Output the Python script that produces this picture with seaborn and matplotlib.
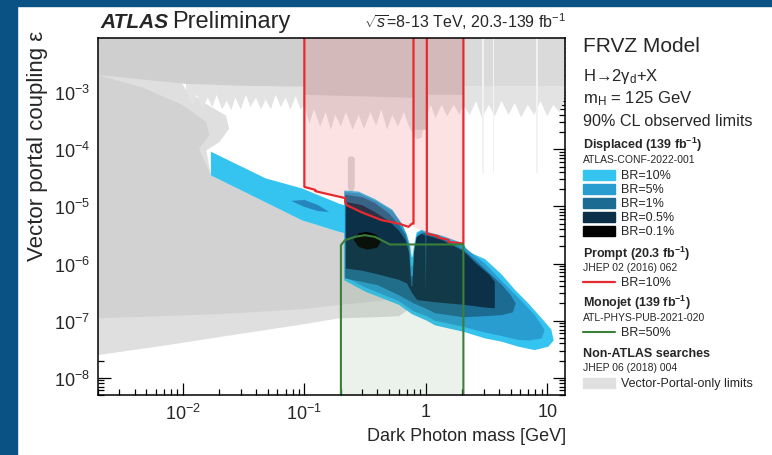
import numpy as np
import matplotlib
matplotlib.use("Agg")
import matplotlib.pyplot as plt
import seaborn as sns
import pandas as pd
from matplotlib.patches import Rectangle
from matplotlib.lines import Line2D

# ---------------- data ----------------
X_MIN, X_MAX = 0.002, 14.0
Y_MIN, Y_MAX = 5e-9, 9e-3
TOP = 1e-2

x_ticks = [0.01, 0.1, 1, 10]
x_ticklabels = [r"$10^{-2}$", r"$10^{-1}$", "1", "10"]
y_ticks = [1e-8, 1e-7, 1e-6, 1e-5, 1e-4, 1e-3]
y_ticklabels = [r"$10^{-8}$", r"$10^{-7}$", r"$10^{-6}$", r"$10^{-5}$", r"$10^{-4}$", r"$10^{-3}$"]

# Non-ATLAS (vector-portal-only) limits: beam dump outer / inner regions
bd_out_m = [0.002, 0.008, 0.0106, 0.015, 0.0226, 0.024, 0.020, 0.0156, 0.017, 0.048, 0.096, 0.193, 0.3, 0.45,
            0.6, 0.68, 0.7, 0.6, 0.4, 0.193, 0.09, 0.0256, 0.00726, 0.002]
bd_out_e = [5e-3, 3e-3, 1.1e-3, 6.5e-4, 3.9e-4, 2.3e-4, 1.34e-4, 9.6e-5, 3.5e-5, 1.18e-5, 5.7e-6, 3.6e-6, 2.5e-6,
            1.2e-6, 5e-7, 2.5e-7, 1.5e-7, 1.2e-7, 1.15e-7, 1.1e-7, 8.4e-8, 5.6e-8, 3.7e-8, 2.5e-8]
bd_in_m = [0.002, 0.0047, 0.010, 0.0156, 0.0165, 0.0136, 0.017, 0.048, 0.096, 0.193, 0.3, 0.45, 0.6, 0.65,
           0.6, 0.4, 0.2, 0.1, 0.02, 0.002]
bd_in_e = [2e-3, 1.2e-3, 5.9e-4, 3.0e-4, 1.76e-4, 1.03e-4, 3.5e-5, 1.18e-5, 5.7e-6, 3.6e-6, 2.5e-6, 1.2e-6,
           5.5e-7, 3e-7, 2.4e-7, 2.2e-7, 1.9e-7, 1.6e-7, 1.3e-7, 1.1e-7]
# collider / fixed-target band at large coupling
top_left_m = [0.002, 0.0106, 0.03, 0.1, 0.1, 0.79, 0.79, 1.02, 1.02, 2.04]
top_left_e = [2e-3, 1.4e-3, 1.3e-3, 1.25e-3, 9e-4, 8e-4, 2.2e-4, 2.2e-4, 9e-4, 9e-4]
top_right_m = [2.04, 14.0]
top_right_e = [1.3e-3, 1.3e-3]
fringe_m = [0.0106, 0.012, 0.013, 0.0145, 0.016, 0.0175, 0.019, 0.021, 0.023, 0.025, 0.027, 0.030, 0.033,
            0.036, 0.040, 0.044, 0.048, 0.053, 0.058, 0.064, 0.070, 0.077, 0.085, 0.093, 0.100,
            0.11, 0.12, 0.135, 0.15, 0.165, 0.18, 0.20, 0.22, 0.25, 0.28, 0.31, 0.35, 0.39, 0.43, 0.48,
            0.53, 0.59, 0.66, 0.72, 0.79,
            0.85, 0.92, 1.02, 1.1, 1.2, 1.35, 1.5, 1.7, 1.9, 2.04,
            2.3, 2.6, 2.9, 3.3, 3.7, 4.2, 4.8, 5.4, 6.1, 6.9, 7.8, 8.8, 10.0, 11.2, 12.6, 14.0]
fringe_e = [1.1e-3, 6e-4, 9e-4, 5e-4, 8e-4, 5.5e-4, 9e-4, 5e-4, 7e-4, 4.8e-4, 8e-4, 5e-4, 9e-4,
            5.5e-4, 8e-4, 5e-4, 7.5e-4, 5e-4, 9e-4, 5.5e-4, 8e-4, 5e-4, 8.5e-4, 5e-4, 6e-4,
            2.8e-4, 5e-4, 2.5e-4, 4.5e-4, 2.2e-4, 4e-4, 2.5e-4, 4.5e-4, 2.2e-4, 4e-4, 2.3e-4, 4.5e-4, 2.6e-4,
            5e-4, 2.2e-4, 4e-4, 2.5e-4, 4.5e-4, 2.6e-4, 1.8e-4,
            1.5e-4, 1.6e-4, 4e-4, 6e-4, 3.5e-4, 6e-4, 3.8e-4, 6e-4, 4e-4, 6e-4,
            4e-4, 7e-4, 3.5e-4, 6e-4, 3.8e-4, 7e-4, 4e-4, 6.5e-4, 3.6e-4, 6e-4, 4e-4, 7e-4, 3.8e-4, 6e-4,
            4.5e-4, 8e-4]
streak_m = [2.9, 3.0, 3.55, 3.65, 8.1, 8.4]
spike_m = [0.228, 0.235, 0.25, 0.26, 0.26, 0.25, 0.235, 0.228]
spike_e = [7e-5, 7.5e-5, 7.5e-5, 7e-5, 2.2e-5, 1.7e-5, 1.7e-5, 2.2e-5]

# Displaced search (139 fb-1), BR contours
br10_m = [0.017, 0.048, 0.096, 0.193, 0.213, 0.213, 0.28, 0.38, 0.53, 0.635, 0.70, 0.745, 0.765, 0.775, 0.80,
          0.84, 0.92, 1.02, 1.35, 2.04, 2.24, 3.07, 4.2, 5.4, 7.0, 9.0, 10.8, 11.3,
          10.2, 7.9, 5.8, 4.2, 3.07, 2.04, 1.19, 1.02, 0.77, 0.60, 0.32, 0.213, 0.213, 0.193, 0.096, 0.048, 0.017]
br10_e = [9.1e-5, 3.1e-5, 2.06e-5, 1.12e-5, 1.05e-5, 1.9e-5, 1.82e-5, 1.35e-5, 8.8e-6, 5.0e-6, 3.2e-6, 2.0e-6,
          1.3e-6, 1.3e-6, 2.0e-6, 3.5e-6, 3.9e-6, 3.6e-6, 3.1e-6, 2.25e-6, 1.6e-6, 1.2e-6, 6.5e-7, 3.5e-7,
          2.0e-7, 1.1e-7, 7e-8, 4.5e-8,
          3.5e-8, 3.06e-8, 3.5e-8, 4.3e-8, 4.9e-8, 6.4e-8, 8.3e-8, 1.0e-7, 1.3e-7, 1.9e-7, 3.2e-7, 5.1e-7,
          3.4e-6, 3.6e-6, 5.7e-6, 1.18e-5, 3.5e-5]
br5_m = [0.215, 0.28, 0.38, 0.53, 0.63, 0.69, 0.735, 0.76, 0.78, 0.81, 0.85, 0.92, 1.02, 1.35, 2.04, 3.07,
         4.2, 5.8, 7.9, 9.5, 9.0, 7.0, 5.8, 4.2, 3.07, 2.04, 1.19, 1.02, 0.80, 0.60, 0.32, 0.215]
br5_e = [1.78e-5, 1.7e-5, 1.27e-5, 8.3e-6, 5.0e-6, 3.3e-6, 2.0e-6, 9e-7, 9e-7, 2.0e-6, 3.3e-6, 3.75e-6,
         3.45e-6, 2.95e-6, 2.0e-6, 1.0e-6, 5.0e-7, 2.5e-7, 1.25e-7, 6.9e-8, 4.9e-8, 4.5e-8, 4.6e-8, 5.4e-8,
         6.2e-8, 7.8e-8, 1.0e-7, 1.2e-7, 1.45e-7, 2.2e-7, 3.8e-7, 5.8e-7]
island_m = [0.078, 0.10, 0.13, 0.16, 0.13, 0.10]
island_e = [1.25e-5, 1.3e-5, 1.05e-5, 8.0e-6, 8.3e-6, 9.8e-6]
br1_m = [0.217, 0.3, 0.38, 0.5, 0.6, 0.68, 0.73, 0.755, 0.785, 0.82, 0.87, 0.95, 1.02, 1.35, 2.04, 2.5,
         3.07, 4.2, 5.0, 5.5, 5.2, 4.2, 3.07, 2.04, 1.2, 1.02, 0.80, 0.60, 0.4, 0.217]
br1_e = [1.6e-5, 1.45e-5, 1.15e-5, 7.5e-6, 4.8e-6, 3.2e-6, 1.9e-6, 6e-7, 6e-7, 1.9e-6, 3.1e-6, 3.5e-6,
         3.3e-6, 2.8e-6, 1.75e-6, 1.2e-6, 8.0e-7, 4.3e-7, 2.8e-7, 2.0e-7, 1.4e-7, 1.25e-7, 1.2e-7, 1.15e-7,
         1.35e-7, 1.6e-7, 2.0e-7, 2.8e-7, 4.2e-7, 5.5e-7]
br05_m = [0.22, 0.3, 0.38, 0.5, 0.6, 0.68, 0.73, 0.76, 0.775, 0.80, 0.84, 0.92, 0.99, 1.0, 1.01, 1.35, 2.04,
          2.6, 3.3, 3.7, 3.7, 3.07, 2.04, 1.2, 0.85, 0.775, 0.7, 0.6, 0.4, 0.3, 0.22]
br05_e = [1.2e-5, 1.05e-5, 8e-6, 5.5e-6, 3.8e-6, 2.6e-6, 1.5e-6, 4e-7, 4e-7, 1.6e-6, 2.9e-6, 3.3e-6, 3.1e-6,
          3e-7, 3.1e-6, 2.6e-6, 1.65e-6, 1.0e-6, 6.5e-7, 4.8e-7, 1.65e-7, 1.7e-7, 1.9e-7, 2.1e-7, 2.3e-7,
          3e-7, 4.5e-7, 5.2e-7, 6.5e-7, 7.5e-7, 8.2e-7]
br01_m = [0.255, 0.28, 0.33, 0.39, 0.43, 0.40, 0.33, 0.28]
br01_e = [2.6e-6, 3.4e-6, 3.6e-6, 3.2e-6, 2.5e-6, 1.9e-6, 1.75e-6, 1.95e-6]

# Prompt search (20.3 fb-1), BR = 10 %
prompt_fill_m = [0.1, 0.123, 0.217, 0.224, 0.435, 0.6, 0.72, 0.77, 0.79, 1.02, 1.27, 1.54, 2.04]
prompt_fill_e = [2.2e-5, 1.92e-5, 1.37e-5, 1.05e-5, 5.74e-6, 5.0e-6, 4.4e-6, 5.0e-6, 4.5e-6, 3.36e-6,
                 2.94e-6, 2.56e-6, 2.24e-6]
prompt1_m = [0.1, 0.1, 0.123, 0.123, 0.217, 0.217, 0.224, 0.3, 0.435, 0.6, 0.72, 0.77, 0.792, 0.792]
prompt1_e = [TOP, 2.2e-5, 1.95e-5, 1.85e-5, 1.4e-5, 1.2e-5, 1.05e-5, 7.8e-6, 5.74e-6, 5.0e-6, 4.4e-6,
             5.0e-6, 5.0e-6, TOP]
prompt2_m = [1.02, 1.02, 1.27, 1.27, 1.54, 1.54, 2.04, 2.04]
prompt2_e = [TOP, 3.36e-6, 3.0e-6, 2.85e-6, 2.6e-6, 2.4e-6, 2.24e-6, TOP]

# Monojet (139 fb-1), BR = 50 %
monojet_m = [0.2, 0.2, 0.216, 0.261, 0.315, 0.381, 0.46, 0.506, 2.04, 2.04]
monojet_e = [Y_MIN, 2.1e-6, 2.56e-6, 2.94e-6, 3.14e-6, 2.94e-6, 2.4e-6, 2.16e-6, 2.16e-6, Y_MIN]

# colours
C_BR = {"10": "#35c3f0", "5": "#2a9dd0", "1": "#1c6b92", "0.5": "#0c3048", "0.1": "#030303"}
C_ISLAND = "#2486bd"
C_RED = "#e52a30"
C_GREEN = "#3b7f3b"
C_BORDER = "#0a5283"

# ---------------- figure ----------------
sns.set_style("ticks")
plt.rcParams["font.family"] = ["Liberation Sans", "DejaVu Sans"]
plt.rcParams["mathtext.fontset"] = "custom"
plt.rcParams["mathtext.rm"] = "Liberation Sans"
plt.rcParams["mathtext.it"] = "Liberation Sans:italic"
plt.rcParams["mathtext.bf"] = "Liberation Sans:bold"

W, H = 772, 456
fig = plt.figure(figsize=(W / 100, H / 100), dpi=100)
fig.patch.set_facecolor("white")
fig.patches.append(Rectangle((0, 0), 17 / W, 1, transform=fig.transFigure, color=C_BORDER, zorder=0))
fig.patches.append(Rectangle((0, 1 - 7 / H), 1, 7 / H, transform=fig.transFigure, color=C_BORDER, zorder=0))

ax = fig.add_axes([98 / W, 1 - 396 / H, (565 - 98) / W, (396 - 38.7) / H])
ax.set_xscale("log")
ax.set_yscale("log")
ax.set_facecolor("white")


def poly(m, e, **kw):
    ax.fill(m, e, lw=0, **kw)


def band(m_lo, e_lo, top=TOP, **kw):
    poly(list(m_lo) + [m_lo[-1], m_lo[0]], list(e_lo) + [top, top], **kw)


# non-ATLAS
poly(bd_out_m, bd_out_e, color="#dfdfdf", zorder=1)
poly(bd_in_m, bd_in_e, color="#d2d2d2", zorder=1.1)
band(fringe_m, fringe_e, color="#e3e3e3", zorder=1.2)
band(top_left_m, top_left_e, color="#cfcfcf", zorder=1.3)
band(top_right_m, top_right_e, color="#dadada", zorder=1.3)
for i in range(0, len(streak_m), 2):
    ax.axvspan(streak_m[i], streak_m[i + 1], ymin=0.62, ymax=1.0, color="#f2f2f2", lw=0, zorder=1.35)
poly(spike_m, spike_e, color="#dcdcdc", zorder=1.4)

# displaced
poly(br10_m, br10_e, color=C_BR["10"], zorder=2)
poly(br5_m, br5_e, color=C_BR["5"], zorder=2.1)
poly(island_m, island_e, color=C_ISLAND, zorder=2.1)
poly(br1_m, br1_e, color=C_BR["1"], zorder=2.2)
poly(br05_m, br05_e, color=C_BR["0.5"], zorder=2.3)
poly(br01_m, br01_e, color=C_BR["0.1"], zorder=2.4)

# prompt & monojet fills
ax.fill_between(prompt_fill_m, prompt_fill_e, TOP, color="#f03838", alpha=0.14, lw=0, zorder=3)
ax.fill_between(monojet_m, Y_MIN, monojet_e, color="#4a8a4a", alpha=0.11, lw=0, zorder=3)

# lines
for mm, ee in ((prompt1_m, prompt1_e), (prompt2_m, prompt2_e)):
    sns.lineplot(data=pd.DataFrame({"m": mm, "e": ee}), x="m", y="e", sort=False, estimator=None,
                 color=C_RED, lw=1.6, ax=ax, zorder=4)
sns.lineplot(data=pd.DataFrame({"m": monojet_m, "e": monojet_e}), x="m", y="e", sort=False, estimator=None,
             color=C_GREEN, lw=1.5, ax=ax, zorder=4)

ax.set_xlim(X_MIN, X_MAX)
ax.set_ylim(Y_MIN, Y_MAX)
ax.set_xlabel("")
ax.set_ylabel("")
ax.set_xticks(x_ticks)
ax.set_xticklabels(x_ticklabels)
ax.set_yticks(y_ticks)
ax.set_yticklabels(y_ticklabels)
ax.xaxis.set_minor_locator(matplotlib.ticker.LogLocator(base=10, subs=np.arange(2, 10), numticks=20))
ax.yaxis.set_minor_locator(matplotlib.ticker.LogLocator(base=10, subs=np.arange(2, 10), numticks=20))
ax.xaxis.set_minor_formatter(matplotlib.ticker.NullFormatter())
ax.yaxis.set_minor_formatter(matplotlib.ticker.NullFormatter())
ax.tick_params(which="both", direction="in", top=True, right=True, color="black", width=0.9, zorder=6)
ax.tick_params(which="major", length=9, labelsize=13, pad=6)
ax.tick_params(which="minor", length=4.5)
for s in ax.spines.values():
    s.set_linewidth(1.1)
    s.set_color("black")
    s.set_zorder(6)

# axis titles
fig.text(566 / W, 1 - 437 / H, "Dark Photon mass [GeV]", ha="right", va="center", fontsize=13)
fig.text(38 / W, 1 - 31 / H, "Vector portal coupling ε", rotation=90, ha="center", va="top", fontsize=16)

# header
fig.text(100 / W, 1 - 22 / H, "ATLAS", fontsize=15, weight="bold", style="italic", va="center")
fig.text(172 / W, 1 - 22 / H, "Preliminary", fontsize=17, va="center")
fig.text(566 / W, 1 - 22 / H, r"$\sqrt{s}$=8-13 TeV, 20.3-139 fb$^{-1}$", fontsize=11.5, ha="right", va="center")

# legend
LX = 583 / W
def ftext(y, s, **kw):
    fig.text(LX, 1 - y / H, s, va="center", **kw)

ftext(47, "FRVZ Model", fontsize=15)
ftext(76, r"H→2γ$_{\rm d}$+X", fontsize=12)
ftext(99, r"m$_{\rm H}$ = 125 GeV", fontsize=12)
ftext(121, "90% CL observed limits", fontsize=11.6)
ftext(145, r"Displaced (139 fb$^{\mathbf{-1}}$)", fontsize=9, weight="bold")
ftext(160, "ATLAS-CONF-2022-001", fontsize=7.5)
sw_y = [176, 190, 204, 218, 232]
sw_lab = ["BR=10%", "BR=5%", "BR=1%", "BR=0.5%", "BR=0.1%"]
sw_col = [C_BR["10"], C_BR["5"], C_BR["1"], C_BR["0.5"], C_BR["0.1"]]
for yy, lab, cc in zip(sw_y, sw_lab, sw_col):
    fig.patches.append(Rectangle((583 / W, 1 - (yy + 5) / H), 32 / W, 10 / H, transform=fig.transFigure,
                                 color=cc, zorder=2))
    fig.text(621 / W, 1 - yy / H, lab, va="center", fontsize=9)
ftext(254, r"Prompt (20.3 fb$^{\mathbf{-1}}$)", fontsize=9, weight="bold")
ftext(268, "JHEP 02 (2016) 062", fontsize=7.5)
fig.lines.append(Line2D([583 / W, 615 / W], [1 - 283 / H] * 2, transform=fig.transFigure, color=C_RED, lw=1.6))
fig.text(621 / W, 1 - 283 / H, "BR=10%", va="center", fontsize=9)
ftext(303, r"Monojet (139 fb$^{\mathbf{-1}}$)", fontsize=9, weight="bold")
ftext(318, "ATL-PHYS-PUB-2021-020", fontsize=7.5)
fig.lines.append(Line2D([583 / W, 615 / W], [1 - 333 / H] * 2, transform=fig.transFigure, color=C_GREEN, lw=1.5))
fig.text(621 / W, 1 - 333 / H, "BR=50%", va="center", fontsize=9)
ftext(354, "Non-ATLAS searches", fontsize=9, weight="bold")
ftext(368, "JHEP 06 (2018) 004", fontsize=7.5)
fig.patches.append(Rectangle((583 / W, 1 - 389 / H), 32 / W, 10 / H, transform=fig.transFigure,
                             color="#e0e0e0", zorder=2))
fig.text(621 / W, 1 - 384 / H, "Vector-Portal-only limits", va="center", fontsize=9)

fig.savefig("out.png", dpi=100)
